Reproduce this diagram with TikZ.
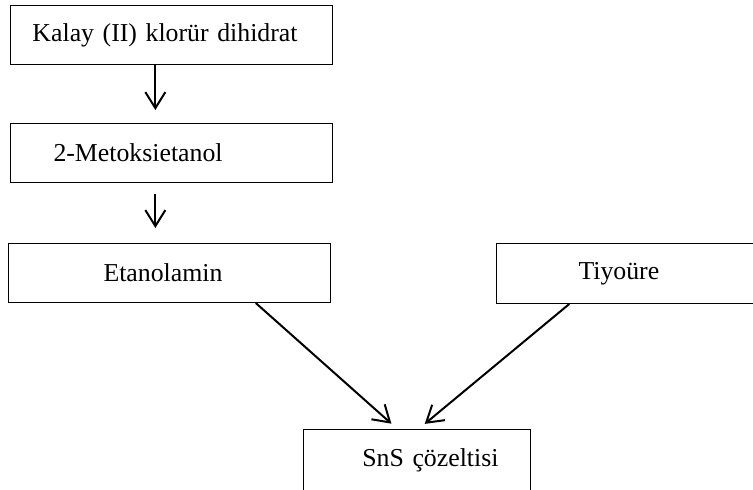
\documentclass[tikz,border=0pt]{standalone}
\usepackage{fontspec}
\setmainfont{Liberation Serif}
\usepackage{tikz}
\usetikzlibrary{arrows.meta, positioning, calc}

\begin{document}
\begin{tikzpicture}[
      x=0.5pt, y=-0.5pt,
      box/.style={draw, line width=0.5pt, minimum height=29.5pt, inner ysep=0pt, align=left, font=\fontsize{12.9}{15}\selectfont},
      arrow/.style={-{Straight Barb[length=8pt, width=10pt]}, line width=1pt}
    ]
      \useasboundingbox (0,0) rectangle (753,490);
      \node[box, anchor=north west, inner xsep=11pt, text width=139pt] (kalay) at (10,5) {Kalay (II) klorür dihidrat};
      \node[box, below=29pt of kalay.south west, anchor=north west, inner xsep=21.5pt, text width=118pt] (metoks) {2-Metoksietanol};
      \node[box, below=30pt of metoks.south west, anchor=north west, xshift=-1pt, inner xsep=47.5pt, text width=66pt] (etanol) {Etanolamin};
      \node[box, right=82.5pt of etanol.north east, anchor=north west, minimum height=30pt, inner xsep=41pt, text width=46.5pt] (tiyo) {Tiyoüre};
      \node[box, below right=63pt and 147.5pt of etanol.south west, anchor=north west, minimum height=31pt, inner xsep=16pt, text width=81.5pt, align=right] (sns) {SnS çözeltisi};
      % vertical chain
      \coordinate (k1) at ($(kalay.south west)!0.45!(kalay.south east)$);
      \coordinate (m1) at ($(metoks.south west)!0.45!(metoks.south east)$);
      \draw[arrow, shorten >=6.5pt] (k1) -- (k1 |- metoks.north);
      \draw[arrow, shorten <=5.5pt, shorten >=7.5pt] (m1) -- (m1 |- etanol.north);
      % into the solution
      \draw[arrow, shorten >=4pt] ($(etanol.south west)!0.767!(etanol.south east)$) -- ($(sns.north west)!0.414!(sns.north east)$);
      \draw[arrow, shorten >=4pt] ($(tiyo.south west)!0.284!(tiyo.south east)$) -- ($(sns.north west)!0.507!(sns.north east)$);
    \end{tikzpicture}
\end{document}
